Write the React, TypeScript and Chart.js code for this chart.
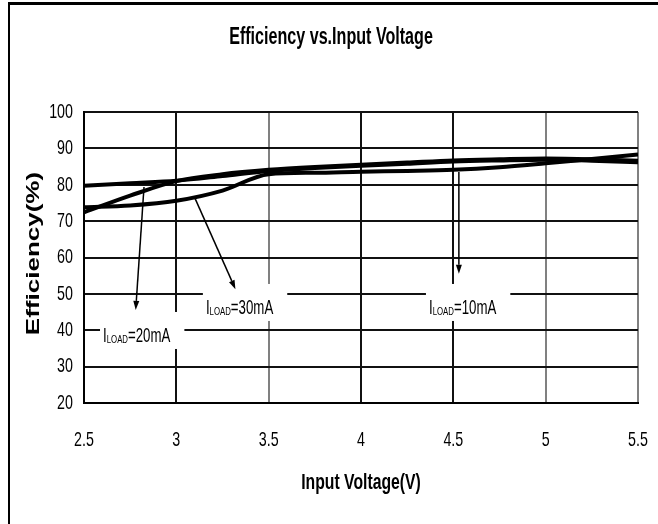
import React, { useEffect, useRef } from "react";
import { Chart, registerables } from "chart.js";

Chart.register(...registerables);

const voltage = [2.5, 2.75, 3.0, 3.25, 3.5, 3.75, 4.0, 4.25, 4.5, 4.75, 5.0, 5.25, 5.5];
const eff10mA = [79.7, 80.4, 81.1, 82.4, 83.8, 84.6, 85.2, 85.8, 86.4, 86.7, 86.9, 86.6, 86.2];
const eff20mA = [72.4, 77.0, 81.0, 82.9, 84.1, 84.9, 85.5, 86.1, 86.7, 87.0, 87.2, 87.0, 86.6];
const eff30mA = [73.8, 74.3, 75.6, 78.4, 82.9, 83.3, 83.6, 83.8, 84.1, 84.8, 85.9, 87.1, 88.3];

const xTicks = [2.5, 3, 3.5, 4, 4.5, 5, 5.5];

const chartTitle = "Efficiency vs.Input Voltage";
const xTitle = "Input Voltage(V)";
const yTitle = "Efficiency(%)";

// annotations (data coordinates)
const labelText = ["=20mA", "=30mA", "=10mA"];
const labelX = [2.603, 3.16, 4.368];
const labelY = [38.7, 46.4, 46.4];
const arrowFromX = [2.825, 3.1, 4.53];
const arrowFromY = [79.4, 76.4, 83.5];
const arrowToX = [2.78, 3.32, 4.53];
const arrowToY = [45.6, 51.3, 55.5];

const FONT = "'Liberation Sans', Arial, sans-serif";
const SX = 0.7; // horizontal condensing of all text

const toPts = (ys: number[]) => voltage.map((v, i) => ({ x: v, y: ys[i] }));

function drawText(ctx: any, text: string, x: number, y: number, font: string, align: string, sx = SX) {
  ctx.save();
  ctx.translate(x, y);
  ctx.scale(sx, 1);
  ctx.font = font;
  ctx.textAlign = align;
  ctx.textBaseline = "middle";
  ctx.fillStyle = "#000";
  ctx.fillText(text, 0, 0);
  ctx.restore();
}

const framePlugin = {
  id: "frame",
  beforeDraw(chart: any) {
    const ctx = chart.ctx;
    ctx.save();
    ctx.fillStyle = "#fff";
    ctx.fillRect(0, 0, chart.width, chart.height);
    ctx.strokeStyle = "#000";
    ctx.lineWidth = 3;
    ctx.beginPath();
    ctx.moveTo(8, 3.5);
    ctx.lineTo(chart.width, 3.5);
    ctx.stroke();
    ctx.lineWidth = 2;
    ctx.beginPath();
    ctx.moveTo(9, 3);
    ctx.lineTo(9, chart.height);
    ctx.stroke();
    ctx.restore();
  },
  afterDraw(chart: any) {
    const ctx = chart.ctx;
    const xs = chart.scales.x;
    const ys = chart.scales.y;
    const area = chart.chartArea;
    const tickFont = `21px ${FONT}`;
    drawText(ctx, chartTitle, chart.width / 2 + 2, 38, `bold 23px ${FONT}`, "center");
    xs.ticks.forEach((t: any) => {
      drawText(ctx, String(t.value), xs.getPixelForValue(t.value), 440, tickFont, "center", 0.68);
    });
    ys.ticks.forEach((t: any) => {
      drawText(ctx, String(t.value), area.left - 11, ys.getPixelForValue(t.value), tickFont, "right", 0.68);
    });
    drawText(ctx, xTitle, (area.left + area.right) / 2, 483, `bold 22.5px ${FONT}`, "center");
    ctx.save();
    ctx.translate(34, (area.top + area.bottom) / 2 - 4);
    ctx.rotate(-Math.PI / 2);
    ctx.scale(1, SX);
    ctx.font = `bold 26px ${FONT}`;
    ctx.textAlign = "center";
    ctx.textBaseline = "middle";
    ctx.fillStyle = "#000";
    ctx.fillText(yTitle, 0, 0);
    ctx.restore();
  },
};

const annotationPlugin = {
  id: "loadLabels",
  afterDatasetsDraw(chart: any) {
    const ctx = chart.ctx;
    const xs = chart.scales.x;
    const ys = chart.scales.y;
    ctx.save();
    const mainFont = `19.5px ${FONT}`;
    const subFont = `11.5px ${FONT}`;
    const lsx = 0.68;
    for (let i = 0; i < labelText.length; i++) {
      const x0 = xs.getPixelForValue(labelX[i]);
      const cy = ys.getPixelForValue(labelY[i]);
      ctx.font = mainFont;
      const wI = ctx.measureText("I").width * lsx;
      const wRest = ctx.measureText(labelText[i]).width * lsx;
      ctx.font = subFont;
      const wSub = ctx.measureText("LOAD").width * lsx;
      const total = wI + wSub + wRest;
      ctx.fillStyle = "#fff";
      ctx.fillRect(x0 - 3, cy - 23, total + 17, 37);
      const put = (t: string, x: number, y: number, f: string) => {
        ctx.save();
        ctx.translate(x, y);
        ctx.scale(lsx, 1);
        ctx.font = f;
        ctx.textAlign = "left";
        ctx.textBaseline = "alphabetic";
        ctx.fillStyle = "#000";
        ctx.fillText(t, 0, 0);
        ctx.restore();
      };
      put("I", x0, cy + 7, mainFont);
      put("LOAD", x0 + wI, cy + 8, subFont);
      put(labelText[i], x0 + wI + wSub, cy + 7, mainFont);
    }
    ctx.strokeStyle = "#000";
    ctx.fillStyle = "#000";
    ctx.lineWidth = 1.5;
    for (let i = 0; i < arrowFromX.length; i++) {
      const x1 = xs.getPixelForValue(arrowFromX[i]);
      const y1 = ys.getPixelForValue(arrowFromY[i]);
      const x2 = xs.getPixelForValue(arrowToX[i]);
      const y2 = ys.getPixelForValue(arrowToY[i]);
      const ang = Math.atan2(y2 - y1, x2 - x1);
      const hl = 9;
      const hw = 3;
      const bx = x2 - hl * Math.cos(ang);
      const by = y2 - hl * Math.sin(ang);
      ctx.beginPath();
      ctx.moveTo(x1, y1);
      ctx.lineTo(bx, by);
      ctx.stroke();
      ctx.beginPath();
      ctx.moveTo(x2, y2);
      ctx.lineTo(bx + hw * Math.sin(ang), by - hw * Math.cos(ang));
      ctx.lineTo(bx - hw * Math.sin(ang), by + hw * Math.cos(ang));
      ctx.closePath();
      ctx.fill();
    }
    ctx.restore();
  },
};

export default function App() {
  const ref = useRef<HTMLCanvasElement | null>(null);
  useEffect(() => {
    document.body.style.margin = "0";
    const canvas = ref.current;
    if (!canvas) return;
    const lineStyle = {
      borderColor: "#000",
      borderWidth: 4,
      pointRadius: 0,
      fill: false,
      cubicInterpolationMode: "monotone" as const,
    };
    const chart = new Chart(canvas, {
      type: "line",
      data: {
        datasets: [
          { label: "ILOAD=10mA", data: toPts(eff10mA), ...lineStyle },
          { label: "ILOAD=20mA", data: toPts(eff20mA), ...lineStyle },
          { label: "ILOAD=30mA", data: toPts(eff30mA), ...lineStyle },
        ],
      },
      options: {
        animation: false,
        responsive: false,
        maintainAspectRatio: false,
        layout: { padding: { left: 0, right: 20, top: 112, bottom: 0 } },
        plugins: {
          legend: { display: false },
          tooltip: { enabled: false },
          title: { display: false },
        },
        scales: {
          x: {
            type: "linear",
            min: 2.5,
            max: 5.5,
            afterBuildTicks: (s: any) => {
              s.ticks = xTicks.map((v) => ({ value: v }));
            },
            afterFit: (s: any) => {
              s.height = 121;
              s.paddingLeft = 0;
              s.paddingRight = 0;
            },
            ticks: { display: false },
            grid: {
              drawTicks: false,
              lineWidth: 2,
              color: (c: any) => {
                const v = c.tick && c.tick.value;
                return v === 3.5 || v === 5 || v === 5.5 ? "#808080" : "#111";
              },
            },
            border: { display: true, color: "#000", width: 2 },
          },
          y: {
            min: 20,
            max: 100,
            afterFit: (s: any) => {
              s.width = 84;
              s.paddingTop = 0;
              s.paddingBottom = 0;
            },
            ticks: { stepSize: 10, display: false },
            grid: { drawTicks: false, lineWidth: 2, color: "#111" },
            border: { display: true, color: "#000", width: 2 },
          },
        },
      },
      plugins: [framePlugin, annotationPlugin],
    });
    return () => chart.destroy();
  }, []);
  return <canvas ref={ref} width={658} height={524} style={{ display: "block" }} />;
}
